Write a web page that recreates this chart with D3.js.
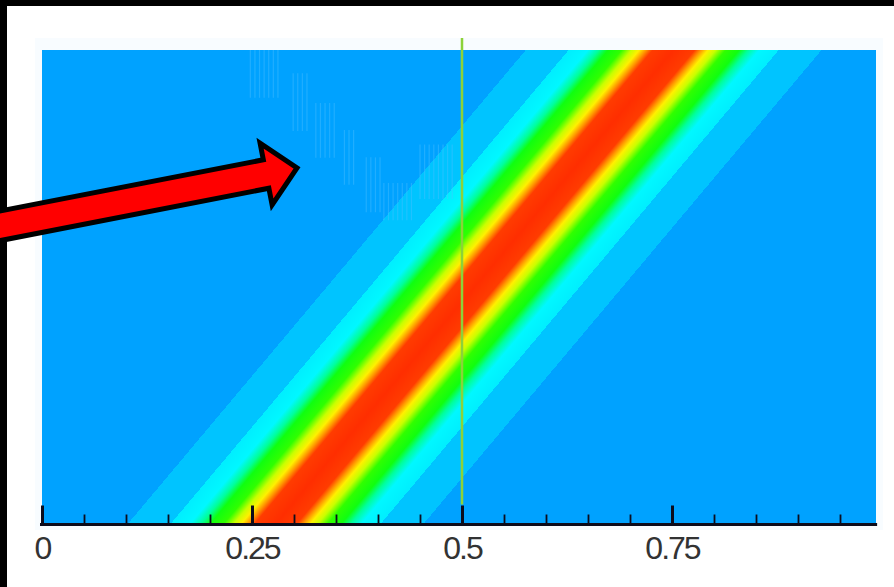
<!DOCTYPE html>
<html>
<head>
<meta charset="utf-8">
<script src="https://cdn.jsdelivr.net/npm/d3@7"></script>
<style>
  html, body { margin: 0; padding: 0; background: #000; }
  svg { display: block; }
</style>
</head>
<body>
<svg id="chart" width="894" height="587"></svg>
<script>
// ---------------- data ----------------
// x axis (space), hidden vertical axis t (time, 0 at bottom, 1 at top)
const xDomain = [0, 0.993];
const majorTicks = [0, 0.25, 0.5, 0.75];
const majorTickLabels = ["0", "0.25", "0.5", "0.75"];
const minorTicks = [0.05, 0.1, 0.15, 0.2, 0.3, 0.35, 0.4, 0.45, 0.55, 0.6, 0.65, 0.7, 0.8, 0.85, 0.9, 0.95];

// centre of the travelling pulse at the bottom and top of the plot
const ridgeT = [0, 1];
const ridgeX = [0.279, 0.752];

// cross-section of the pulse: distance from its centre (x units) -> contour colour
const profileDist  = [0.176, 0.176, 0.125, 0.125, 0.102, 0.089, 0.078, 0.062, 0.050, 0.041, 0.033, 0.025, 0.0];
const profileColor = ["#00A2FF", "#00C4FF", "#00C4FF", "#00EEFF", "#00F8FF", "#00FF9C", "#10FF10", "#30FF00", "#C8FF00", "#FFF000", "#FF9A00", "#FF3C00", "#FF2E00"];
const backgroundLevelColor = "#00A2FF";

// marker line at x = 0.5
const markerX = 0.5;

// faint numerical artefacts (vertical streaks) : [x0, x1, tBottom, tTop]
const artefactGroups = [
  [0.248, 0.286, 0.899, 1.0],
  [0.299, 0.317, 0.829, 0.951],
  [0.326, 0.348, 0.772, 0.888],
  [0.360, 0.376, 0.715, 0.831],
  [0.386, 0.404, 0.657, 0.773],
  [0.407, 0.443, 0.640, 0.719],
  [0.450, 0.493, 0.685, 0.800]
];

// annotation arrow (tail -> tip) in data coordinates
const arrowTail = [-0.074, 0.620];
const arrowTip = [0.3036, 0.7505];

// ---------------- drawing ----------------
const svg = d3.select("#chart");
const W = 894, H = 587;

// black frame + white sheet
svg.append("rect").attr("x", 0).attr("y", 0).attr("width", W).attr("height", H).attr("fill", "#000");
svg.append("rect").attr("x", 7).attr("y", 6).attr("width", W - 7).attr("height", H - 6).attr("fill", "#fff");

const plotLeft = 42, plotTop = 50, plotBottom = 523;
const x = d3.scaleLinear().domain([0, 1]).range([plotLeft, 882]);
const y = d3.scaleLinear().domain([0, 1]).range([plotBottom, plotTop]);
const plotRight = x(xDomain[1]);

// faint halo around plot
svg.append("rect")
  .attr("x", plotLeft - 7).attr("y", plotTop - 12)
  .attr("width", plotRight - plotLeft + 14).attr("height", plotBottom - plotTop + 19)
  .attr("fill", "#f8fcff");

const defs = svg.append("defs");

// flooded contour field: a gradient across the travelling pulse, sheared along its path
const ridge = d3.scaleLinear().domain(ridgeT).range(ridgeX);
const xc0 = x(ridge(0)), xc1 = x(ridge(1));
const k = (xc1 - xc0) / (y(1) - y(0));          // dx/dy of the ridge in pixels
const L = 0.2;                                  // half span of gradient (x units)
const pxL = x(L) - x(0);
const gx0 = xc0 - k * y(0);                     // ridge x at pixel y = 0 before shear
const grad = defs.append("linearGradient")
  .attr("id", "pulse")
  .attr("gradientUnits", "userSpaceOnUse")
  .attr("x1", gx0 - pxL).attr("x2", gx0 + pxL)
  .attr("y1", 0).attr("y2", 0)
  .attr("gradientTransform", `skewX(${Math.atan(k) * 180 / Math.PI})`);

const stops = [];
stops.push({ o: 0, c: backgroundLevelColor });
profileDist.forEach((d, i) => stops.push({ o: (L - d) / (2 * L), c: profileColor[i] }));
for (let i = profileDist.length - 1; i >= 0; i--) stops.push({ o: (L + profileDist[i]) / (2 * L), c: profileColor[i] });
stops.push({ o: 1, c: backgroundLevelColor });
grad.selectAll("stop").data(stops).join("stop")
  .attr("offset", d => d.o)
  .attr("stop-color", d => d.c);

defs.append("clipPath").attr("id", "plotClip")
  .append("rect")
  .attr("x", plotLeft).attr("y", plotTop)
  .attr("width", plotRight - plotLeft).attr("height", plotBottom - plotTop);

const plot = svg.append("g").attr("clip-path", "url(#plotClip)");

plot.append("rect")
  .attr("x", plotLeft).attr("y", plotTop)
  .attr("width", plotRight - plotLeft).attr("height", plotBottom - plotTop)
  .attr("fill", "url(#pulse)");

// artefact streaks
artefactGroups.forEach(g => {
  const px0 = x(g[0]), px1 = x(g[1]);
  d3.range(px0, px1 + 0.01, 4.6).forEach(px => {
    plot.append("line")
      .attr("x1", px).attr("x2", px)
      .attr("y1", y(g[3])).attr("y2", y(g[2]))
      .attr("stroke", "#4fc0ff")
      .attr("stroke-opacity", 0.4)
      .attr("stroke-width", 1.2);
  });
});

// axis
const axisY = plotBottom + 1.5;
const axisG = svg.append("g").attr("transform", `translate(0,${axisY})`);
axisG.append("line")
  .attr("x1", plotLeft - 2).attr("x2", plotRight + 1)
  .attr("y1", 0).attr("y2", 0)
  .attr("stroke", "#0c0c1c").attr("stroke-width", 3.2);

const minorAxis = d3.axisBottom(x).tickValues(minorTicks).tickSize(-10).tickFormat("");
const mg = axisG.append("g").call(minorAxis);
mg.select(".domain").remove();
mg.selectAll(".tick line").attr("stroke", "#0c0c1c").attr("stroke-width", 1.8);

const majorAxis = d3.axisBottom(x).tickValues(majorTicks).tickSizeInner(-19).tickSizeOuter(0)
  .tickPadding(12).tickFormat((d, i) => majorTickLabels[i]);
const ag = axisG.append("g").call(majorAxis);
ag.select(".domain").remove();
ag.selectAll(".tick line").attr("stroke", "#0c0c1c").attr("stroke-width", 3);
ag.selectAll(".tick text")
  .attr("fill", "#333")
  .attr("font-family", "'Liberation Sans', Arial, sans-serif")
  .attr("font-size", 32)
  .attr("letter-spacing", "-2px")
  .attr("dy", "0.71em");

// marker line
svg.append("line")
  .attr("x1", x(markerX)).attr("x2", x(markerX))
  .attr("y1", plotTop - 12).attr("y2", axisY - 20)
  .attr("stroke", "#8cd23a").attr("stroke-width", 2.5);

// annotation arrow
(function () {
  const tail = [x(arrowTail[0]), y(arrowTail[1])];
  const tip = [x(arrowTip[0]), y(arrowTip[1])];
  const dx = tip[0] - tail[0], dy = tip[1] - tail[1];
  const len = Math.hypot(dx, dy);
  const ang = Math.atan2(dy, dx) * 180 / Math.PI;
  const shaftHalf = 14.5, headHalf = 31.5, headLen = 31.5;
  const local = [
    [0, -shaftHalf], [len - headLen, -shaftHalf], [len - headLen, -headHalf],
    [len, 0],
    [len - headLen, headHalf], [len - headLen, shaftHalf], [0, shaftHalf]
  ];
  svg.append("path")
    .attr("transform", `translate(${tail[0]},${tail[1]}) rotate(${ang})`)
    .attr("d", d3.line()(local) + "Z")
    .attr("fill", "#ff0000")
    .attr("stroke", "#000")
    .attr("stroke-width", 5)
    .attr("stroke-linejoin", "miter")
    .attr("stroke-miterlimit", 10);
})();
</script>
</body>
</html>
